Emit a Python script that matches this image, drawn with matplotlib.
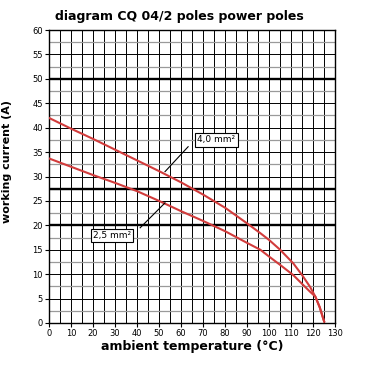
import matplotlib
matplotlib.use("Agg")
import matplotlib.pyplot as plt
import numpy as np

# 4,0 mm² curve (upper)
temp_40 = [0, 10, 20, 30, 40, 50, 60, 70, 80, 90, 96, 100, 105, 111, 115, 118.6, 121, 123, 125]
amps_40 = [42.0, 39.8, 37.7, 35.5, 33.3, 31.1, 28.8, 26.3, 23.6, 20.4, 18.4, 17.0, 15.0, 12.2, 9.8, 7.4, 5.4, 3.2, 0.3]

# 2,5 mm² curve (lower)
temp_25 = [0, 10, 20, 30, 40, 50, 60, 70, 80, 90, 96, 100, 105, 111, 115, 118.6, 121, 123, 125]
amps_25 = [33.7, 32.0, 30.3, 28.7, 27.0, 25.0, 22.9, 20.9, 18.8, 16.4, 15.0, 13.6, 11.9, 9.8, 8.0, 6.4, 5.4, 3.2, 0.3]

x_ticks = list(range(0, 131, 10))
y_ticks = list(range(0, 61, 5))
thick_rows = [50, 27.5, 20]

fig = plt.figure(figsize=(3.8, 3.8), dpi=100)
ax = fig.add_axes([0.129, 0.15, 0.753, 0.771])

# grid
for x in np.arange(5, 130, 5):
    ax.axvline(x, color="black", lw=0.7, zorder=1)
for y in np.arange(2.5, 60, 2.5):
    if y % 5 == 0:
        ax.axhline(y, color="black", lw=0.7, zorder=1)
    else:
        ax.axhline(y, color="#9a9a9a", lw=0.9, zorder=1)
for y in thick_rows:
    ax.axhline(y, color="black", lw=1.7, zorder=2)

red = "#d23c3c"
ax.plot(temp_40, amps_40, color=red, lw=1.5, zorder=3)
ax.plot(temp_25, amps_25, color=red, lw=1.5, zorder=3)

# labels with leader lines
ax.plot([63.2, 52.7], [36.1, 31.0], color="black", lw=0.8, zorder=4)
ax.plot([41.4, 52.7], [19.5, 24.6], color="black", lw=0.8, zorder=4)
box = dict(boxstyle="square,pad=0.25", fc="white", ec="black", lw=0.8)
ax.text(76, 37.5, "4,0 mm²", ha="center", va="center", fontsize=6.5,
        bbox=box, zorder=5)
ax.text(28.6, 17.9, "2,5 mm²", ha="center", va="center", fontsize=6.5,
        bbox=box, zorder=5)

ax.set_xlim(0, 130)
ax.set_ylim(0, 60)
ax.set_xticks(x_ticks)
ax.set_yticks(y_ticks)
ax.tick_params(labelsize=6, length=3, width=0.8, pad=1.5)
for s in ax.spines.values():
    s.set_linewidth(1.0)

ax.set_title("diagram CQ 04/2 poles power poles", fontsize=9,
             fontweight="bold", x=0.455, pad=7)
ax.set_xlabel("ambient temperature (°C)", fontsize=9, fontweight="bold",
              labelpad=1)
ax.set_ylabel("working current (A)", fontsize=8, fontweight="bold")
ax.yaxis.set_label_coords(-0.13, 0.55)

fig.savefig("out.png", dpi=100)
